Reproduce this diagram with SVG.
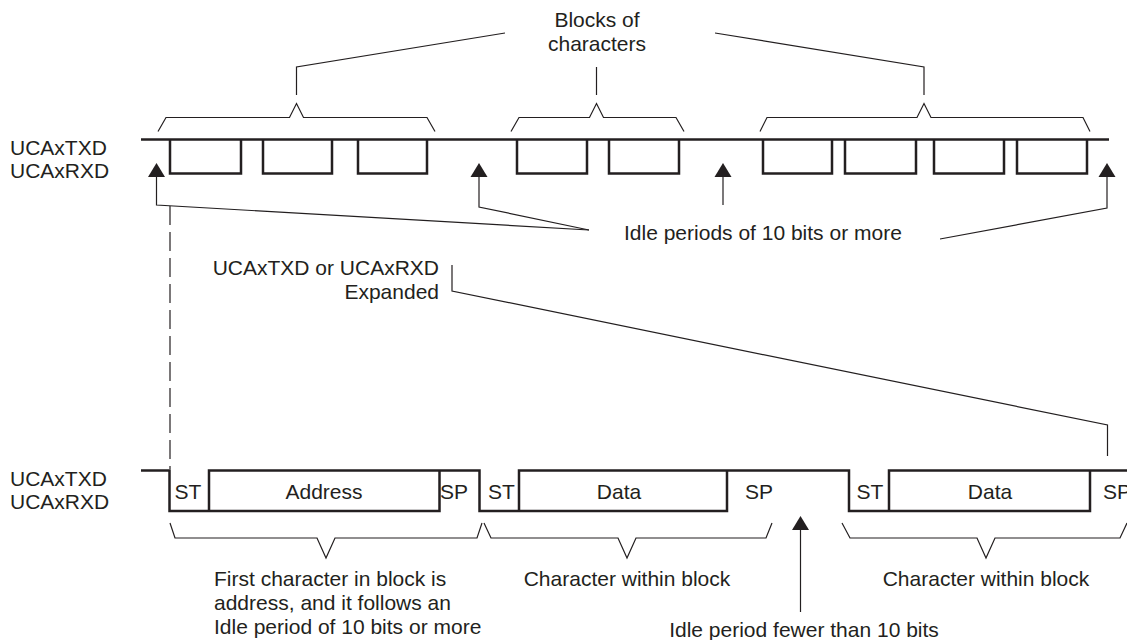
<svg xmlns="http://www.w3.org/2000/svg" width="1127" height="640" viewBox="0 0 1127 640">
<defs>
<style>
text{font-family:"Liberation Sans",Arial,sans-serif;font-size:21px;fill:#231f20}
.sig{fill:none;stroke:#231f20;stroke-width:2.5;stroke-linejoin:miter}
.thin{fill:none;stroke:#231f20;stroke-width:1.2}
.dash{fill:none;stroke:#231f20;stroke-width:1.2;stroke-dasharray:19 7}
.arr{fill:#231f20}
.mid{text-anchor:middle}
.end{text-anchor:end}
</style>
</defs>
<rect width="1127" height="640" fill="#fff"/>

<g id="labels-top">
<text x="10" y="155">UCAxTXD</text>
<text x="10" y="178">UCAxRXD</text>
</g>
<g id="labels-bottom">
<text x="10" y="486">UCAxTXD</text>
<text x="10" y="509">UCAxRXD</text>
</g>

<g id="top-signal">
<path class="sig" d="M141,139.5 H1109"/>
<path class="sig" d="M170,139.5 V173.5 H241 V139.5"/>
<path class="sig" d="M263,139.5 V173.5 H332 V139.5"/>
<path class="sig" d="M358,139.5 V173.5 H427 V139.5"/>
<path class="sig" d="M517,139.5 V173.5 H587 V139.5"/>
<path class="sig" d="M609,139.5 V173.5 H679 V139.5"/>
<path class="sig" d="M763,139.5 V173.5 H832 V139.5"/>
<path class="sig" d="M845,139.5 V173.5 H916 V139.5"/>
<path class="sig" d="M934,139.5 V173.5 H1004 V139.5"/>
<path class="sig" d="M1017,139.5 V173.5 H1087 V139.5"/>
</g>

<g id="blocks-label">
<text class="mid" x="597" y="27">Blocks of</text>
<text class="mid" x="597" y="51">characters</text>
</g>

<g id="idle-label">
<text x="624" y="240">Idle periods of 10 bits or more</text>
</g>

<g id="expanded-label">
<text class="end" x="439" y="275">UCAxTXD or UCAxRXD</text>
<text class="end" x="439" y="299">Expanded</text>
</g>

<g id="bottom-signal">
<path class="sig" d="M141,470.5 H169.5 V511 H439.5 V470.5"/>
<path class="sig" d="M209,511 V470.5 H479.5 V511 H727 V470.5"/>
<path class="sig" d="M519,511 V470.5 H849 V511 H1090 V470.5"/>
<path class="sig" d="M889,511 V470.5 H1127"/>
<text class="mid" x="188" y="499">ST</text>
<text class="mid" x="324" y="499">Address</text>
<text class="mid" x="454" y="499">SP</text>
<text class="mid" x="501.5" y="499">ST</text>
<text class="mid" x="619" y="499">Data</text>
<text class="mid" x="759" y="499">SP</text>
<text class="mid" x="870" y="499">ST</text>
<text class="mid" x="990" y="499">Data</text>
<text x="1103" y="499">SP</text>
</g>

<g id="bottom-notes">
<text x="214" y="586">First character in block is</text>
<text x="214" y="610">address, and it follows an</text>
<text x="214" y="634">Idle period of 10 bits or more</text>
<text class="mid" x="627" y="586">Character within block</text>
<text class="mid" x="986" y="586">Character within block</text>
<text class="mid" x="804" y="637">Idle period fewer than 10 bits</text>
</g>

<g id="connectors">
<path class="thin" d="M158,131.5 L166,117.5 H289.5 L296.5,103.5 L303.5,117.5 H427 L435,131.5"/>
<path class="thin" d="M511,131.5 L519,117.5 H589.5 L596.5,103.5 L603.5,117.5 H676 L684,131.5"/>
<path class="thin" d="M760,131.5 L767,117.5 H917 L924,103.5 L931,117.5 H1083 L1090,131.5"/>
<path class="thin" d="M296.5,95 V67 L505,33"/>
<path class="thin" d="M596.5,95 V67"/>
<path class="thin" d="M924,95 V67 L715,33"/>

<path class="arr" d="M156.5,163 L165,177 H148 Z"/>
<path class="arr" d="M479,163 L487.5,177 H470.5 Z"/>
<path class="arr" d="M723,163 L731.5,177 H714.5 Z"/>
<path class="arr" d="M1107,163 L1115.5,177 H1098.5 Z"/>
<path class="thin" d="M156.5,177 V205 L589,230"/>
<path class="thin" d="M479,177 V207 L589,230"/>
<path class="thin" d="M723,177 V205"/>
<path class="thin" d="M1107,177 V208 L940,239"/>

<path class="dash" d="M170,206 V469"/>
<path class="thin" d="M452,265 V291 L1107.5,425 V456"/>

<path class="thin" d="M170,523 L175,538 H317 L326,558 L335,538 H477 L482,523"/>
<path class="thin" d="M484,523 L491,538 H618 L627,558 L636,538 H766 L772,523"/>
<path class="thin" d="M842,523 L850,538 H977 L986,558 L995,538 H1120 L1127,523"/>

<path class="arr" d="M800.5,516 L809,530 H792 Z"/>
<path class="thin" d="M800.5,530 V612"/>
</g>
</svg>
